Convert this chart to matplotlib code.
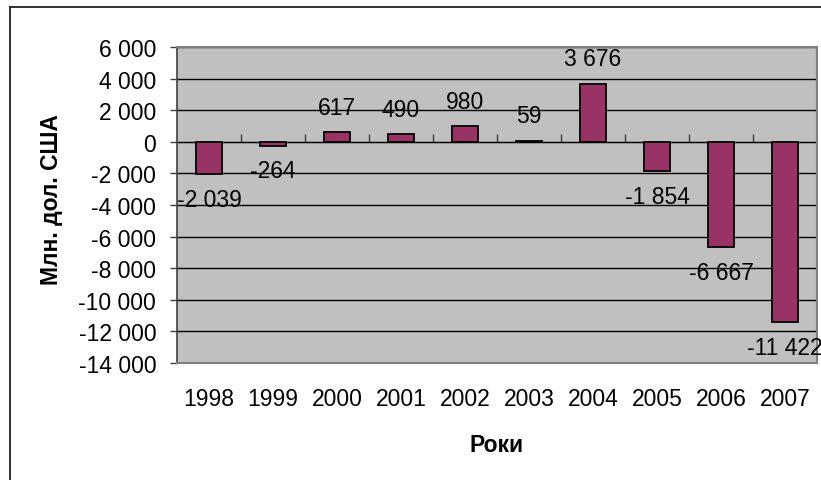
import matplotlib
matplotlib.use("Agg")
import matplotlib.pyplot as plt
import numpy as np
from matplotlib.lines import Line2D

years = ["1998", "1999", "2000", "2001", "2002", "2003", "2004", "2005", "2006", "2007"]
values = [-2039, -264, 617, 490, 980, 59, 3676, -1854, -6667, -11422]
labels = ["-2 039", "-264", "617", "490", "980", "59", "3 676", "-1 854", "-6 667", "-11 422"]
yticks = list(range(-14000, 6001, 2000))

def fmt(v):
    s = f"{abs(v):,}".replace(",", " ")
    return ("-" if v < 0 else "") + s

plt.rcParams['font.family'] = ['Liberation Sans', 'DejaVu Sans']
FS = 16.5

W, H = 821, 481
fig = plt.figure(figsize=(W / 100, H / 100), dpi=100)
ax = fig.add_axes([177 / W, 1 - 364 / H, (817 - 177) / W, (364 - 48) / H])

ymin, ymax = -14000, 6000
ax.set_ylim(ymin, ymax)
x = np.arange(len(years))
ax.set_xlim(-0.5, len(years) - 0.5)
ax.set_facecolor("#C0C0C0")

ax.set_yticks(yticks)
ax.set_yticklabels([fmt(v) for v in yticks], fontsize=FS)
ax.yaxis.grid(True, color="black", linewidth=1.0)
ax.set_axisbelow(True)

ax.bar(x, values, width=0.41, color="#993366", edgecolor="black", linewidth=1.3, zorder=3)

for xi, v, lab in zip(x, values, labels):
    off = 25 if v >= 0 else -25
    ax.annotate(lab, (xi, v), xytext=(0, off), textcoords="offset pixels",
                ha="center", va="center", fontsize=FS, zorder=4, annotation_clip=False)

ax.set_xticks(x)
ax.set_xticklabels(years, fontsize=FS)
ax.tick_params(axis="x", length=0, pad=17)
ax.tick_params(axis="y", length=5, direction="out", color="#404040", width=1, pad=10)

for side in ["top", "right", "bottom"]:
    ax.spines[side].set_color("#808080")
    ax.spines[side].set_linewidth(1.5)
ax.spines["left"].set_color("#404040")
ax.spines["left"].set_linewidth(1.2)

# category axis crossing at zero
zero_frac = (0 - ymin) / (ymax - ymin)
sec = ax.secondary_xaxis(zero_frac)
sec.set_xticks(np.arange(0.5, len(years) - 0.5, 1.0))
sec.set_xticklabels([])
sec.tick_params(axis="x", direction="out", length=6, color="#404040", width=1)
sec.spines["bottom"].set_color("black")
sec.spines["bottom"].set_linewidth(1.2)

ax.set_xlabel("Роки", fontsize=FS, fontweight="bold")
ax.xaxis.set_label_coords(0.5, (364 - 445) / 316, transform=ax.transAxes)
ax.xaxis.label.set_va("center")
ax.set_ylabel("Млн. дол. США", fontsize=FS, fontweight="bold")
ax.yaxis.set_label_coords((52 - 177) / 640, (364 - 200) / 316, transform=ax.transAxes)
ax.yaxis.label.set_va("center")

# chart area border (top and left visible)
fig.add_artist(Line2D([9.5 / W, 9.5 / W], [0, 1 - 7.5 / H], color="#202020", linewidth=1.3,
                      transform=fig.transFigure))
fig.add_artist(Line2D([9.5 / W, 1], [1 - 7.5 / H, 1 - 7.5 / H], color="#202020", linewidth=1.3,
                      transform=fig.transFigure))

fig.savefig("out.png", dpi=100)
